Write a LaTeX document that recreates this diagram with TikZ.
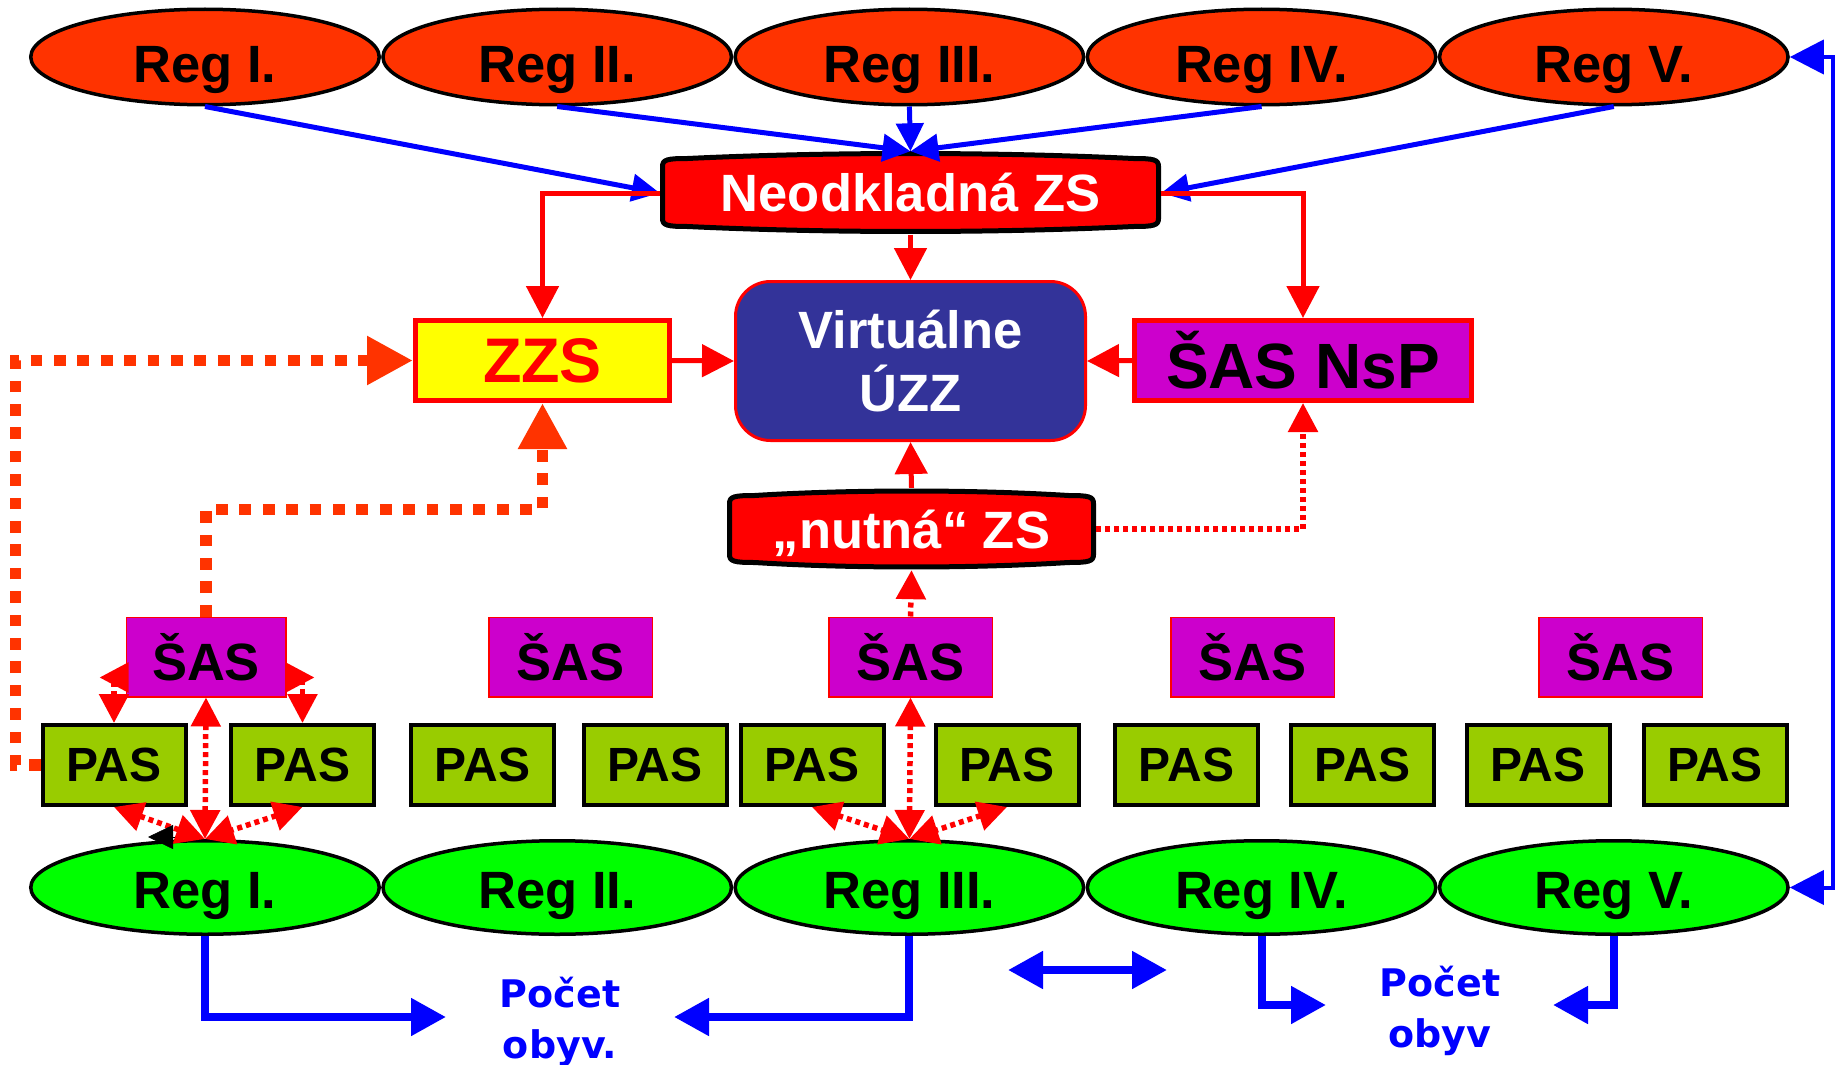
\documentclass[tikz,border=0pt]{standalone}
\usepackage{fontspec}
\setmainfont{Liberation Sans}
\newfontfamily\dejafont{DejaVu Sans}
\usetikzlibrary{shapes.geometric,arrows.meta,calc}
\definecolor{regorange}{HTML}{FF3300}
\definecolor{reggreen}{HTML}{00FF00}
\definecolor{virblue}{HTML}{333399}
\definecolor{sasmag}{HTML}{CC00CC}
\definecolor{pasgreen}{HTML}{99CC00}
\definecolor{myred}{HTML}{FF0000}
\definecolor{myblue}{HTML}{0000FF}
\definecolor{myyellow}{HTML}{FFFF00}
% l, tc, r, bc, bulge
\newcommand\drawcan[5]{%
 \filldraw[draw=black, line width=5pt, fill=myred]
 (#1,{#2+8}) .. controls (#1,{#2+1}) and ({#1+5},#2) .. ({#1+25},#2)
 .. controls ({#1+(#3-#1)/3},{#2-1.33*#5}) and ({#3-(#3-#1)/3},{#2-1.33*#5}) .. ({#3-25},#2)
 .. controls ({#3-5},#2) and (#3,{#2+1}) .. (#3,{#2+8})
 -- (#3,{#4-8})
 .. controls (#3,{#4-1}) and ({#3-5},#4) .. ({#3-25},#4)
 .. controls ({#3-(#3-#1)/3},{#4+1.33*#5}) and ({#1+(#3-#1)/3},{#4+1.33*#5}) .. ({#1+25},#4)
 .. controls ({#1+5},#4) and (#1,{#4-1}) .. (#1,{#4-8}) -- cycle;}
\tikzset{
 regcommon/.style={ellipse, draw=black, line width=3.5pt, minimum width=348.5pt, inner sep=0pt, font=\fontsize{52.5}{62}\selectfont\bfseries, text depth=0pt},
 regtop/.style={regcommon, fill=regorange, minimum height=95.5pt, text height=52pt},
 regbot/.style={regcommon, fill=reggreen, minimum height=93.5pt, text height=42pt},
 canlabel/.style={inner sep=0pt, text=white, font=\fontsize{52.5}{62}\selectfont\bfseries},
 virbox/.style={rounded corners=35pt, draw=myred, line width=3pt, fill=virblue, text=white, align=center, font=\fontsize{52.5}{63}\selectfont\bfseries, minimum width=350pt, minimum height=159pt, inner sep=0pt},
 zzsbox/.style={draw=myred, line width=5pt, fill=myyellow, text=myred, font=\fontsize{63}{70}\selectfont\bfseries, minimum width=254pt, minimum height=80pt, inner sep=0pt},
 nspbox/.style={draw=myred, line width=5pt, fill=sasmag, font=\fontsize{64}{70}\selectfont\bfseries, minimum width=337pt, minimum height=80pt, inner sep=0pt},
 sasbox/.style={draw=myred, line width=1.5pt, fill=sasmag, font=\fontsize{52.5}{60}\selectfont\bfseries, minimum width=163.5pt, minimum height=79.5pt, inner sep=0pt},
 pasbox/.style={draw=black, line width=4pt, fill=pasgreen, font=\fontsize{48}{55}\selectfont\bfseries, minimum width=143pt, minimum height=80pt, inner sep=0pt},
 bluethin/.style={draw=myblue, line width=5pt, -{Triangle[length=28pt,width=27pt]}},
 bluethick/.style={draw=myblue, line width=8pt, -{Triangle[length=35pt,width=36pt]}},
 blueedge/.style={draw=myblue, line width=4pt, {Triangle[length=34pt,width=34pt]}-{Triangle[length=34pt,width=34pt]}},
 redline/.style={draw=myred, line width=5pt, -{Triangle[length=32pt,width=32pt]}},
 reddot/.style={draw=myred, line width=5.5pt, dash pattern=on 5pt off 4pt, -{Triangle[length=29pt,width=29pt]}},
 reddotboth/.style={reddot, {Triangle[length=29pt,width=29pt]}-{Triangle[length=29pt,width=29pt]}},
 orangedot/.style={draw=regorange, line width=11.7pt, dash pattern=on 11.7pt off 11.7pt, -{Triangle[length=46pt,width=46pt]}},
 poptext/.style={text=myblue, font=\dejafont\fontsize{38}{51}\selectfont\bfseries, align=center, inner sep=0pt},
}
\begin{document}
\begin{tikzpicture}[x=1pt, y=-1pt]
\useasboundingbox (0,0) rectangle (1837,1065);
\fill[white] (0,0) rectangle (1837,1065);

% top regions
\node[regtop] (t1) at (205,57) {Reg I.};
\node[regtop] (t2) at (557.2,57) {Reg II.};
\node[regtop] (t3) at (909.4,57) {Reg III.};
\node[regtop] (t4) at (1261.6,57) {Reg IV.};
\node[regtop] (t5) at (1613.8,57) {Reg V.};

% bottom regions
\node[regbot] (b1) at (205,887.5) {Reg I.};
\node[regbot] (b2) at (557.2,887.5) {Reg II.};
\node[regbot] (b3) at (909.4,887.5) {Reg III.};
\node[regbot] (b4) at (1261.6,887.5) {Reg IV.};
\node[regbot] (b5) at (1613.8,887.5) {Reg V.};

% can shapes
\drawcan{662.5}{158.5}{1158.5}{226.5}{5}
\node[canlabel, minimum width=501pt, minimum height=83pt] (neo) at (910.5,193) {Neodkladná ZS};
\drawcan{729.5}{495.5}{1093.5}{562.5}{4.5}
\node[canlabel, minimum width=369pt, minimum height=82pt, text depth=0pt] (nut) at (911.5,529) {„nutná“ ZS};

\node[virbox] (vir) at (910.5,361) {Virtuálne\\ÚZZ};
\node[zzsbox] (zzs) at (542.5,360.5) {ZZS};
\node[nspbox] (nsp) at (1303,360.5) {ŠAS NsP};

% SAS
\node[sasbox, minimum width=159.5pt] (sas1) at (206,657) {ŠAS};
\node[sasbox] (sas2) at (570.5,657) {ŠAS};
\node[sasbox] (sas3) at (910.5,657) {ŠAS};
\node[sasbox] (sas4) at (1252.5,657) {ŠAS};
\node[sasbox] (sas5) at (1620.5,657) {ŠAS};

% PAS
\node[pasbox] (pas1) at (114,765) {PAS};
\node[pasbox] (pas2) at (302.5,765) {PAS};
\node[pasbox] (pas3) at (482.5,765) {PAS};
\node[pasbox] (pas4) at (655,765) {PAS};
\node[pasbox] (pas5) at (812,765) {PAS};
\node[pasbox] (pas6) at (1007,765) {PAS};
\node[pasbox] (pas7) at (1186.5,765) {PAS};
\node[pasbox] (pas8) at (1362.5,765) {PAS};
\node[pasbox] (pas9) at (1538,765) {PAS};
\node[pasbox] (pas10) at (1715,765) {PAS};

% population labels (base = last line)
\node[poptext, anchor=base] (pop1) at (560,1058) {Počet\\obyv.};
\node[poptext, anchor=base] (pop2) at (1440,1047) {Počet\\obyv};

% free coordinates
\coordinate (p1a) at (446,1017);
\coordinate (p1b) at (674,1017);
\coordinate (dl) at (1008,970);
\coordinate (dr) at (1167,970);
\coordinate (p2a) at (1326,1005);
\coordinate (p2b) at (1553,1005);
\coordinate (bk) at (175,837);

% blue top arrows
\draw[bluethin] (t1.south) -- (neo.west);
\draw[bluethin] (t2.south) -- (neo.north);
\draw[bluethin] (t3.south) -- (neo.north);
\draw[bluethin] (t4.south) -- (neo.north);
\draw[bluethin] (t5.south) -- (neo.east);

% red solid
\draw[redline] (neo.west) -| (zzs.north);
\draw[redline] (neo.east) -| (nsp.north);
\draw[redline] (neo.south) -- (vir.north);
\draw[redline] (zzs.east) -- (vir.west);
\draw[redline] (nsp.west) -- (vir.east);
\draw[redline] (nut.north) -- (vir.south);

% orange thick dotted
\draw[orangedot] (pas1.west) -- ++(-25,0) |- (zzs.west);
\draw[orangedot] (sas1.north) -- ++(0,-107) -| (zzs.south);

% red dotted
\draw[reddot] (nut.east) -| (nsp.south);
\draw[reddot] (sas3.north) -- (nut.south);
\draw[reddotboth] (sas3.south) -- (b3.north);
\draw[reddotboth] (pas5.south) -- (b3.north);
\draw[reddotboth] (pas6.south) -- (b3.north);
\draw[reddotboth] (sas1.south) -- (b1.north);
\draw[reddotboth] (pas1.south) -- (b1.north);
\draw[reddotboth] (pas2.south) -- (b1.north);
\draw[reddotboth] ($(sas1.south west)+(-26,-20)$) -| (pas1.north);
\draw[reddotboth] ($(sas1.south east)+(28,-20)$) -| (pas2.north);

% black small tip
\draw[draw=black, line width=0.5pt, -{Triangle[length=25pt,width=24pt]}] (bk) -- ++(-27,0);

% blue bottom
\draw[bluethick] (b1.south) |- (p1a);
\draw[bluethick] (b3.south) |- (p1b);
\draw[bluethick, {Triangle[length=35pt,width=36pt]}-{Triangle[length=35pt,width=36pt]}] (dl) -- (dr);
\draw[bluethick] (b4.south) |- (p2a);
\draw[bluethick] (b5.south) |- (p2b);

% right edge
\draw[blueedge] (t5.east) -- ++(43,0) |- (b5.east);
\end{tikzpicture}
\end{document}
